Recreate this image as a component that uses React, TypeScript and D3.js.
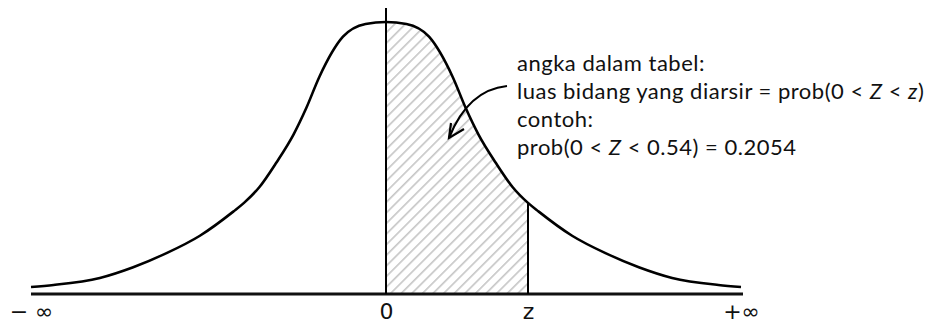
import React, { useEffect, useRef } from 'react';
import * as d3 from 'd3';

// curve: z units vs. density
const curveZ = [-3.3, -3.09, -2.66, -2.35, -2.04, -1.73, -1.42, -1.32, -1.18, -1.02, -0.86, -0.74, -0.62, -0.4, -0.19, 0,
  0.19, 0.4, 0.62, 0.74, 0.86, 1.02, 1.18, 1.32, 1.42, 1.73, 2.04, 2.35, 2.66, 3.09, 3.3];
const curveDensity = [0.0045, 0.0075, 0.018, 0.034, 0.055, 0.081, 0.117, 0.13, 0.153, 0.19, 0.232, 0.272, 0.318, 0.378, 0.397, 0.4,
  0.397, 0.378, 0.318, 0.272, 0.232, 0.19, 0.153, 0.13, 0.117, 0.081, 0.055, 0.034, 0.018, 0.0075, 0.0045];

const zValue = 1.32;
const tickValues = [-3.3, 0, zValue, 3.3];
const tickLabels = ['\u2212 \u221E', '0', 'z', '+\u221E'];

// annotation lines, [text, italic]
const noteLines: [string, boolean][][] = [
  [['angka dalam tabel:', false]],
  [['luas bidang yang diarsir = prob(0 < ', false], ['Z', true], [' < ', false], ['z', true], [')', false]],
  [['contoh:', false]],
  [['prob(0 < ', false], ['Z', true], [' < 0.54) = 0.2054', false]],
];

const W = 930;
const H = 324;
const baseY = 294;

export default function App() {
  const ref = useRef<SVGSVGElement>(null);

  useEffect(() => {
    const svg = d3.select(ref.current);
    svg.selectAll('*').remove();

    const x = d3.scaleLinear().domain([-3.3, 3.3]).range([31, 741]);
    const y = d3.scaleLinear().domain([0, 0.4]).range([290, 22]);
    const pts = curveZ.map((z, i) => [z, curveDensity[i]] as [number, number]);

    const defs = svg.append('defs');
    defs.append('pattern')
      .attr('id', 'hatch')
      .attr('patternUnits', 'userSpaceOnUse')
      .attr('width', 7.5)
      .attr('height', 7.5)
      .attr('patternTransform', 'rotate(-45)')
      .append('line')
      .attr('x1', 0).attr('x2', 7.5).attr('y1', 3.7).attr('y2', 3.7)
      .attr('stroke', '#8a8a8a')
      .attr('stroke-width', 0.8);
    defs.append('clipPath').attr('id', 'shade')
      .append('rect')
      .attr('x', x(0)).attr('y', 0)
      .attr('width', x(zValue) - x(0)).attr('height', baseY);

    const smooth = d3.curveMonotoneX;
    const area = d3.area<[number, number]>()
      .x(d => x(d[0])).y0(baseY).y1(d => y(d[1]))
      .curve(smooth);
    const line = d3.line<[number, number]>()
      .x(d => x(d[0])).y(d => y(d[1]))
      .curve(smooth);

    svg.append('path')
      .attr('d', area(pts))
      .attr('fill', 'url(#hatch)')
      .attr('clip-path', 'url(#shade)');

    // baseline
    svg.append('line')
      .attr('x1', x(-3.3)).attr('x2', x(3.3) + 2)
      .attr('y1', baseY).attr('y2', baseY)
      .attr('stroke', '#111').attr('stroke-width', 3);

    svg.append('path')
      .attr('d', line(pts))
      .attr('fill', 'none')
      .attr('stroke', '#000')
      .attr('stroke-width', 2.6);

    // vertical at 0 and at z
    svg.append('line')
      .attr('x1', x(0)).attr('x2', x(0))
      .attr('y1', 8).attr('y2', baseY)
      .attr('stroke', '#000').attr('stroke-width', 2);
    svg.append('line')
      .attr('x1', x(zValue)).attr('x2', x(zValue))
      .attr('y1', y(curveDensity[curveZ.indexOf(zValue)])).attr('y2', baseY)
      .attr('stroke', '#000').attr('stroke-width', 2);

    // axis labels
    const axis = d3.axisBottom(x)
      .tickValues(tickValues)
      .tickSize(0)
      .tickFormat((_d, i) => tickLabels[i]);
    const g = svg.append('g').attr('transform', `translate(0,${baseY})`).call(axis);
    g.select('.domain').remove();
    g.selectAll('text')
      .attr('dy', null)
      .attr('y', 25)
      .attr('fill', '#111')
      .style('font-family', '"DejaVu Sans", sans-serif')
      .style('font-size', '22px');

    // arrow
    svg.append('path')
      .attr('d', 'M507,86 Q468,90 449,138')
      .attr('fill', 'none').attr('stroke', '#000').attr('stroke-width', 2.2);
    svg.append('path')
      .attr('d', 'M451,123 L449,138 L464,129')
      .attr('fill', 'none').attr('stroke', '#000').attr('stroke-width', 2.2)
      .attr('stroke-linejoin', 'miter');

    // annotation
    const note = svg.append('g')
      .style('font-family', 'Lato, "Open Sans", sans-serif')
      .style('font-size', '22px')
      .style('letter-spacing', '0.5px')
      .attr('fill', '#111');
    noteLines.forEach((segs, i) => {
      const t = note.append('text').attr('x', 517).attr('y', 71 + i * 28);
      segs.forEach(([s, it]) => {
        t.append('tspan').text(s).style('font-style', it ? 'italic' : 'normal');
      });
    });
  }, []);

  return (
    <svg ref={ref} width={W} height={H}
      style={{ position: 'absolute', left: 0, top: 0, background: '#fff' }} />
  );
}
